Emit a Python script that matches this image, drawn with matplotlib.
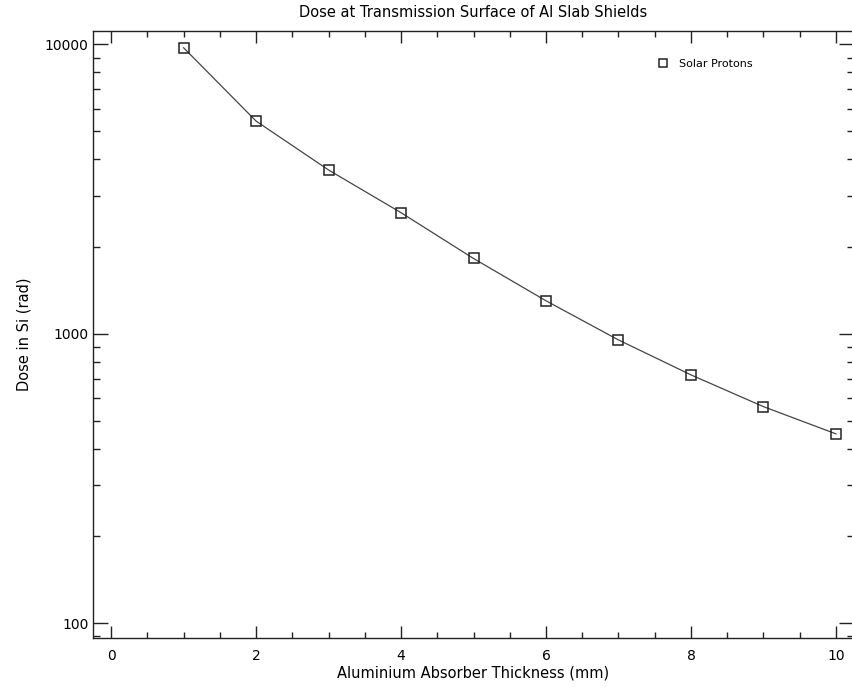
import numpy as np
import matplotlib.pyplot as plt
from matplotlib.ticker import FixedLocator, LogLocator, NullFormatter, MultipleLocator

# ---------- Data ----------
thickness_mm = [1, 2, 3, 4, 5, 6, 7, 8, 9, 10]
dose_rad = [9730, 5430, 3680, 2620, 1820, 1300, 952, 721, 560, 451]

y_ticks = [100, 1000, 10000]
x_ticks = [0, 2, 4, 6, 8, 10]

# ---------- Plot ----------
plt.rcParams["font.family"] = "DejaVu Sans"
fig = plt.figure(figsize=(8.53, 6.87), dpi=100)
ax = fig.add_axes([0.109, 0.0718, 0.8922, 0.8831])

ax.plot(thickness_mm, dose_rad, color="#444444", lw=0.9)
ax.plot(thickness_mm, dose_rad, ls="none", marker="s", ms=7.5, mfc="none",
        mec="#222222", mew=1.1, label="Solar Protons")

ax.set_yscale("log")
ax.set_xlim(-0.25, 10.25)
ax.set_ylim(10 ** 1.95, 10 ** 4.046)

ax.xaxis.set_major_locator(FixedLocator(x_ticks))
ax.xaxis.set_minor_locator(MultipleLocator(0.5))
ax.set_xticklabels([str(v) for v in x_ticks])
ax.yaxis.set_major_locator(FixedLocator(y_ticks))
ax.yaxis.set_minor_locator(LogLocator(base=10, subs=np.arange(2, 10)))
ax.yaxis.set_minor_formatter(NullFormatter())
ax.set_yticklabels([str(v) for v in y_ticks])

ax.tick_params(axis="both", which="both", direction="in", top=True, right=True,
               colors="#222222", labelcolor="black", labelsize=10)
ax.tick_params(axis="x", which="major", length=8.6, width=1, pad=8)
ax.tick_params(axis="x", which="minor", length=4.3, width=1)
ax.tick_params(axis="y", which="major", length=11, width=1, pad=3)
ax.tick_params(axis="y", which="minor", length=5, width=1)
for s in ax.spines.values():
    s.set_color("#222222")
    s.set_linewidth(1)
ax.spines["right"].set_visible(False)  # right edge falls off the image in the original

ax.set_title("Dose at Transmission Surface of Al Slab Shields", fontsize=10.5, pad=10)
ax.set_xlabel("Aluminium Absorber Thickness (mm)", fontsize=10.5, labelpad=2)
ax.set_ylabel("Dose in Si (rad)", fontsize=10.5, labelpad=10)

ax.legend(loc="center left", bbox_to_anchor=(0.735, 0.9456), frameon=False,
          borderpad=0, handlelength=1.0, handletextpad=0.9, fontsize=8, markerscale=0.8)

fig.savefig("out.png", dpi=100)
